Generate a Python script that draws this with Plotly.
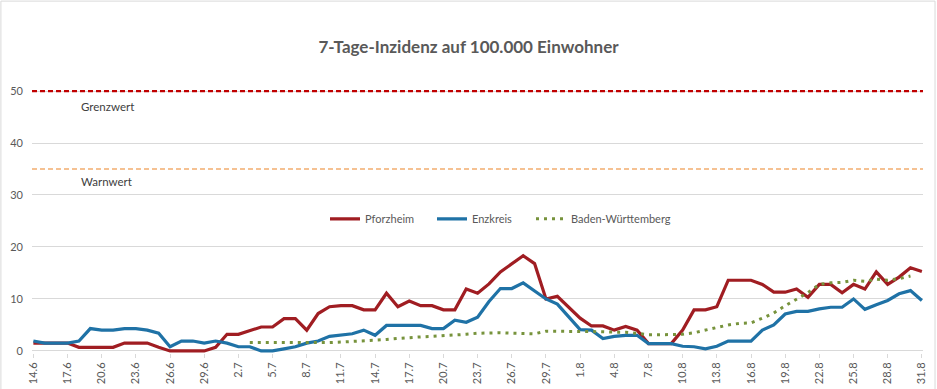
import plotly.graph_objects as go
import pandas as pd

# Date categories 14.6. - 31.8.
dates = [f"{d.day}.{d.month}" for d in pd.date_range("2020-06-14", "2020-08-31")]

pforzheim = [1.5, 1.5, 1.5, 1.5, 0.7, 0.7, 0.7, 0.7, 1.5, 1.5,
             1.5, 0.7, 0, 0, 0, 0, 0.7, 3.2, 3.2, 3.9,
             4.6, 4.6, 6.2, 6.2, 4.0, 7.2, 8.5, 8.7, 8.7, 7.9,
             7.9, 11.1, 8.5, 9.6, 8.7, 8.7, 7.9, 7.9, 11.9, 11.1,
             12.9, 15.2, 16.8, 18.3, 16.8, 10.0, 10.5, 8.5, 6.3, 4.8,
             4.8, 4.0, 4.7, 4.0, 1.4, 1.4, 1.4, 4.0, 7.9, 7.9,
             8.5, 13.6, 13.6, 13.6, 12.8, 11.3, 11.3, 11.9, 10.3, 12.8,
             12.8, 11.2, 12.8, 11.9, 15.2, 12.8, 14.2, 16.0, 15.3]

enzkreis = [1.9, 1.5, 1.5, 1.5, 1.9, 4.3, 4.0, 4.0, 4.3, 4.3,
            4.0, 3.4, 0.8, 1.9, 1.9, 1.5, 1.9, 1.5, 0.8, 0.8,
            0, 0, 0.4, 0.8, 1.5, 1.9, 2.8, 3.0, 3.3, 4.0,
            3.0, 4.9, 4.9, 4.9, 4.9, 4.3, 4.3, 5.9, 5.5, 6.5,
            9.5, 12.0, 12.0, 13.1, 11.6, 10.0, 9.0, 6.6, 4.1, 4.0,
            2.4, 2.8, 3.0, 3.0, 1.4, 1.4, 1.4, 0.9, 0.8, 0.4,
            0.9, 1.9, 1.9, 1.9, 4.0, 5.0, 7.1, 7.6, 7.6, 8.1,
            8.4, 8.4, 10.0, 8.0, 8.9, 9.7, 11.0, 11.6, 9.7]

baden_wuerttemberg = [None] * 19 + [
    1.6, 1.6, 1.6, 1.6, 1.6, 1.5, 1.6, 1.6, 1.7, 1.8,
    1.9, 2.0, 2.2, 2.4, 2.6, 2.7, 2.8, 2.9, 3.0, 3.2,
    3.4, 3.5, 3.5, 3.4, 3.3, 3.3, 3.8, 3.8, 3.8, 3.7,
    3.7, 3.7, 3.6, 3.6, 3.4, 3.1, 3.1, 3.1, 3.2, 3.5,
    4.0, 4.5, 5.0, 5.3, 5.4, 6.3, 7.3, 8.7, 9.9, 11.2,
    12.8, 13.1, 13.2, 13.6, 13.4, 13.8, 13.6, 13.9, 14.4, None]

GRENZWERT = 50
WARNWERT = 35
y_ticks = [0, 10, 20, 30, 40, 50]

idx = list(range(len(dates)))
tick_idx = idx[::3]
tick_text = [dates[i] for i in tick_idx]

FONT = "Lato, 'Open Sans', sans-serif"
TXT = "#595959"

fig = go.Figure()

fig.add_hline(y=GRENZWERT, line=dict(color="#c00000", width=2.5, dash="5px,3px"), layer="above")
fig.add_hline(y=WARNWERT, line=dict(color="#f5c192", width=2, dash="5px,3px"), layer="above")

fig.add_trace(go.Scatter(x=idx, y=pforzheim, name="Pforzheim", mode="lines",
                         line=dict(color="#a01d22", width=3.2), legend="legend"))
fig.add_trace(go.Scatter(x=idx, y=enzkreis, name="Enzkreis", mode="lines",
                         line=dict(color="#1f72a6", width=3.2), legend="legend2"))
fig.add_trace(go.Scatter(x=idx, y=baden_wuerttemberg, name="Baden-Württemberg", mode="lines",
                         line=dict(color="#77933c", width=3, dash="3px,5px"), legend="legend3"))

fig.add_annotation(x=4.0, y=GRENZWERT - 2.9, text="Grenzwert", showarrow=False,
                   xanchor="left", yanchor="middle", font=dict(size=11.5, color="#404040", family=FONT))
fig.add_annotation(x=4.0, y=WARNWERT - 2.4, text="Warnwert", showarrow=False,
                   xanchor="left", yanchor="middle", font=dict(size=11.5, color="#404040", family=FONT))

# light border around the chart
fig.add_shape(type="rect", xref="paper", yref="paper",
              x0=-0.0349, x1=1.0135, y0=-0.139, y1=1.338,
              line=dict(color="#d9d9d9", width=1), layer="below")

legend_common = dict(orientation="h", xanchor="left", y=0.51, yanchor="middle",
                     bgcolor="rgba(0,0,0,0)", font=dict(size=11, color=TXT, family=FONT),
                     itemwidth=30)

fig.update_layout(
    width=937, height=389,
    margin=dict(l=32, r=14, t=90, b=36),
    paper_bgcolor="white", plot_bgcolor="white",
    font=dict(family=FONT, color=TXT, size=11),
    title=dict(text="<b>7-Tage-Inzidenz auf 100.000 Einwohner</b>", x=0.5, xanchor="center",
               y=1 - 47 / 389, yanchor="middle",
               font=dict(family=FONT, size=17, color=TXT)),
    showlegend=True,
    legend=dict(x=(325 - 32) / 891, **legend_common),
    legend2=dict(x=(432 - 32) / 891, **legend_common),
    legend3=dict(x=(531 - 32) / 891, **legend_common),
    hovermode=False,
)

fig.update_xaxes(range=[-0.12, 78.1], tickmode="array", tickvals=tick_idx, ticktext=tick_text,
                 tickangle=-90, showgrid=False, zeroline=False, showline=False,
                 ticks="outside", ticklen=4, tickcolor="#d9d9d9", automargin=False,
                 tickfont=dict(size=11, color=TXT, family=FONT))
fig.update_yaxes(range=[-0.4, 50.2], tickmode="array", tickvals=y_ticks,
                 showgrid=True, gridcolor="#d9d9d9", gridwidth=1,
                 zeroline=True, zerolinecolor="#d9d9d9", zerolinewidth=1, showline=False,
                 ticks="", ticklabelstandoff=8, automargin=False,
                 tickfont=dict(size=11, color=TXT, family=FONT))

fig.write_html("out.html", config={"displayModeBar": False},
               post_script="document.body.style.margin='0';")
